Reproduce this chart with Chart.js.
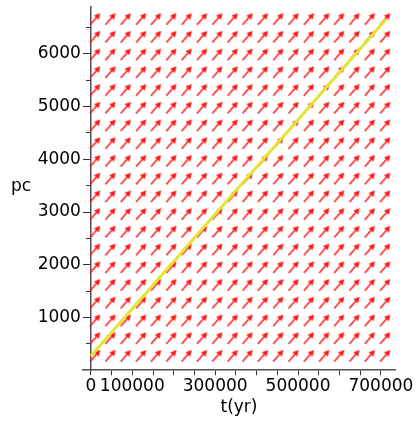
<!DOCTYPE html>
<html>
<head>
<meta charset="utf-8">
<script src="https://cdn.jsdelivr.net/npm/chart.js@4.4.1/dist/chart.umd.min.js"></script>
<style>
  body { margin: 0; background: #fff; }
  #wrap { width: 416px; height: 426px; }
</style>
</head>
<body>
<div id="wrap"><canvas id="dfield"></canvas></div>
<script>
// direction field grid (t in yr, pc)
const gridT = [10000, 47000, 84000, 121000, 157000, 194000, 231000, 268000, 305000, 342000,
               378000, 415000, 452000, 489000, 526000, 563000, 599000, 636000, 673000, 710000];
const gridPc = [270, 606, 942, 1279, 1615, 1951, 2287, 2624, 2960, 3296,
                3632, 3968, 4305, 4641, 4977, 5313, 5650, 5986, 6322, 6658];
const fieldSlope = 0.00896; // dpc/dt, same everywhere

// solution curve
const lineT = [0, 712000];
const linePc = [270, 6650];

// ticks
const xTicks = [0, 50000, 100000, 150000, 200000, 250000, 300000, 350000,
                400000, 450000, 500000, 550000, 600000, 650000, 700000];
const xLabels = [0, 100000, 300000, 500000, 700000];
const yMinorTicks = [500, 1000, 1500, 2000, 2500, 3000, 3500, 4000, 4500, 5000, 5500, 6000, 6500];
const yTicks = [1000, 2000, 3000, 4000, 5000, 6000];

const FONT = 'DejaVu Sans';

// little arrow glyph, pointing right
const arrowImg = document.createElement('canvas');
arrowImg.width = 17;
arrowImg.height = 8;
(function () {
    const c = arrowImg.getContext('2d');
    c.strokeStyle = '#ff1a1a';
    c.fillStyle = '#ff1a1a';
    c.lineWidth = 1.5;
    c.beginPath();
    c.moveTo(1, 4);
    c.lineTo(11.5, 4);
    c.stroke();
    c.beginPath();
    c.moveTo(16.5, 4);
    c.lineTo(10.5, 0.8);
    c.lineTo(10.5, 7.2);
    c.closePath();
    c.fill();
})();

const fieldPoints = [];
gridT.forEach(t => gridPc.forEach(p => fieldPoints.push({ x: t, y: p })));

function arrowAngle(ctx) {
    const xs = ctx.chart.scales.x, ys = ctx.chart.scales.y;
    const dx = xs.getPixelForValue(100000) - xs.getPixelForValue(0);
    const dy = ys.getPixelForValue(fieldSlope * 100000) - ys.getPixelForValue(0);
    return Math.atan2(dy, dx) * 180 / Math.PI;
}

const pcLabel = {
    id: 'pcLabel',
    afterDraw(chart) {
        const c = chart.ctx;
        c.save();
        c.font = '17px ' + FONT;
        c.fillStyle = '#000';
        c.textAlign = 'center';
        c.textBaseline = 'alphabetic';
        c.fillText('pc', 21, 191);
        c.restore();
    }
};

const yRange = { min: 0, max: 6900 };

new Chart(document.getElementById('dfield'), {
    type: 'scatter',
    data: {
        datasets: [{
            label: 'curve',
            data: lineT.map((t, i) => ({ x: t, y: linePc[i] })),
            showLine: true,
            borderColor: '#e4e432',
            borderWidth: 3,
            pointRadius: 0
        }, {
            label: 'field',
            data: fieldPoints,
            pointStyle: arrowImg,
            pointRadius: 3,
            rotation: arrowAngle
        }]
    },
    options: {
        responsive: true,
        maintainAspectRatio: false,
        animation: false,
        events: [],
        layout: {
            padding: { left: 83, right: 21, top: 4, bottom: 8 }
        },
        plugins: {
            legend: { display: false },
            tooltip: { enabled: false }
        },
        scales: {
            x: {
                type: 'linear',
                position: 'bottom',
                min: -19000,
                max: 734000,
                afterBuildTicks: s => { s.ticks = xTicks.map(v => ({ value: v })); },
                border: { display: true, color: '#505050', width: 1.5 },
                grid: { drawOnChartArea: false, drawTicks: true, tickLength: 5, color: '#333' },
                ticks: {
                    autoSkip: false,
                    maxRotation: 0,
                    padding: 1,
                    color: '#000',
                    font: { family: FONT, size: 17 },
                    callback: v => xLabels.includes(v) ? String(v) : ''
                },
                title: {
                    display: true,
                    text: 't(yr)',
                    color: '#000',
                    font: { family: FONT, size: 17 },
                    padding: { top: 0, bottom: 0 }
                }
            },
            // axis line + short minor ticks
            y: {
                type: 'linear',
                position: { x: 0 },
                ...yRange,
                afterBuildTicks: s => { s.ticks = yMinorTicks.map(v => ({ value: v })); },
                border: { display: true, color: '#505050', width: 1.5 },
                grid: { drawOnChartArea: false, drawTicks: true, tickLength: 4, color: '#333' },
                ticks: { display: false }
            },
            // longer major ticks
            y2: {
                type: 'linear',
                position: { x: 0 },
                ...yRange,
                afterBuildTicks: s => { s.ticks = yTicks.map(v => ({ value: v })); },
                border: { display: false },
                grid: { drawOnChartArea: false, drawTicks: true, tickLength: 8, color: '#333' },
                ticks: { display: false }
            },
            // labels, set just left of the major ticks
            y3: {
                type: 'linear',
                position: { x: -24000 },
                ...yRange,
                afterBuildTicks: s => { s.ticks = yTicks.map(v => ({ value: v })); },
                border: { display: false },
                grid: { display: false },
                ticks: {
                    color: '#000',
                    font: { family: FONT, size: 17, lineHeight: 0.4 },
                    callback: v => String(v)
                }
            }
        }
    },
    plugins: [pcLabel]
});
</script>
</body>
</html>
